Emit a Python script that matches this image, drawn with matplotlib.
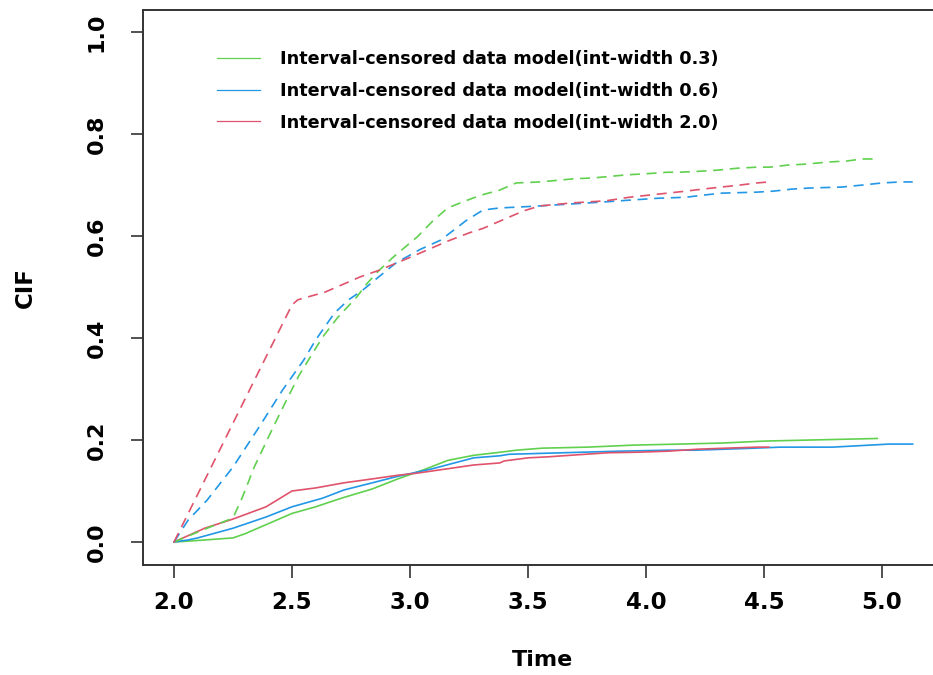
import numpy as np
import matplotlib
matplotlib.use("Agg")
from matplotlib import pyplot as plt

# colours of the R 4.x default palette
green = "#61D04F"
blue = "#2297E6"
red = "#DF536B"

labels = ["Interval-censored data model(int-width 0.3)",
          "Interval-censored data model(int-width 0.6)",
          "Interval-censored data model(int-width 2.0)"]

# lower curves (solid)
t_solid_03 = [2.0, 2.07, 2.25, 2.30, 2.385, 2.5, 2.6, 2.71, 2.84, 2.95, 3.06, 3.16, 3.27, 3.40, 3.45,
              3.56, 3.75, 3.95, 4.14, 4.32, 4.51, 4.70, 4.89, 4.98]
cif_solid_03 = [0.0, 0.002, 0.008, 0.016, 0.033, 0.056, 0.069, 0.086, 0.104, 0.124, 0.142, 0.16, 0.17, 0.177, 0.18,
                0.184, 0.186, 0.19, 0.192, 0.194, 0.198, 0.2, 0.202, 0.203]

t_solid_06 = [2.0, 2.06, 2.1, 2.25, 2.39, 2.5, 2.63, 2.72, 2.84, 2.95, 3.09, 3.27, 3.38, 3.42, 3.65,
              3.88, 4.09, 4.21, 4.46, 4.57, 4.79, 5.03, 5.13]
cif_solid_06 = [0.0, 0.004, 0.008, 0.027, 0.049, 0.069, 0.086, 0.102, 0.116, 0.129, 0.143, 0.165, 0.169, 0.172, 0.175,
                0.178, 0.18, 0.18, 0.184, 0.186, 0.186, 0.192, 0.192]

t_solid_20 = [2.0, 2.13, 2.25, 2.39, 2.5, 2.6, 2.72, 2.86, 2.95, 3.03, 3.27, 3.38, 3.40, 3.50, 3.585,
              3.71, 3.84, 3.96, 4.09, 4.22, 4.34, 4.47, 4.52]
cif_solid_20 = [0.0, 0.027, 0.045, 0.069, 0.1, 0.106, 0.116, 0.125, 0.131, 0.135, 0.151, 0.155, 0.159, 0.165, 0.167,
                0.171, 0.175, 0.176, 0.178, 0.182, 0.184, 0.186, 0.186]

# upper curves (dashed)
t_dash_03 = [2.0, 2.14, 2.25, 2.29, 2.34, 2.415, 2.47, 2.53, 2.63, 2.695, 2.77, 2.82, 2.87, 2.93, 3.03,
             3.10, 3.16, 3.23, 3.30, 3.38, 3.45, 3.55, 3.69, 3.78, 3.92, 4.0, 4.09, 4.14, 4.23, 4.30,
             4.39, 4.47, 4.525, 4.60, 4.68, 4.77, 4.85, 4.915, 4.97]
cif_dash_03 = [0.0, 0.027, 0.047, 0.088, 0.147, 0.22, 0.272, 0.327, 0.402, 0.441, 0.478, 0.508, 0.533, 0.559, 0.598,
               0.631, 0.655, 0.668, 0.68, 0.69, 0.704, 0.706, 0.712, 0.714, 0.72, 0.722, 0.725, 0.725, 0.727, 0.729,
               0.733, 0.735, 0.735, 0.739, 0.741, 0.745, 0.747, 0.751, 0.751]

t_dash_06 = [2.0, 2.06, 2.14, 2.25, 2.36, 2.46, 2.55, 2.60, 2.68, 2.74, 2.80, 2.86, 2.94, 3.04, 3.13,
             3.24, 3.31, 3.38, 3.47, 3.55, 3.69, 3.83, 3.92, 4.05, 4.17, 4.24, 4.32, 4.47, 4.54, 4.62,
             4.69, 4.83, 4.92, 5.0, 5.08, 5.13]
cif_dash_06 = [0.0, 0.043, 0.082, 0.147, 0.225, 0.298, 0.357, 0.396, 0.449, 0.475, 0.494, 0.517, 0.547, 0.573, 0.592,
               0.631, 0.651, 0.655, 0.657, 0.659, 0.663, 0.667, 0.67, 0.674, 0.676, 0.68, 0.684, 0.686, 0.688, 0.692,
               0.694, 0.696, 0.70, 0.704, 0.706, 0.706]

t_dash_20 = [2.0, 2.25, 2.5, 2.525, 2.64, 2.79, 2.87, 3.01, 3.16, 3.25, 3.31, 3.41, 3.48, 3.55, 3.69,
             3.83, 3.93, 4.05, 4.17, 4.24, 4.32, 4.40, 4.47, 4.52]
cif_dash_20 = [0.0, 0.233, 0.465, 0.475, 0.49, 0.52, 0.533, 0.56, 0.59, 0.606, 0.615, 0.635, 0.649, 0.659, 0.665,
               0.669, 0.676, 0.682, 0.688, 0.692, 0.696, 0.70, 0.704, 0.706]

x_ticks = [2.0, 2.5, 3.0, 3.5, 4.0, 4.5, 5.0]
y_ticks = [0.0, 0.2, 0.4, 0.6, 0.8, 1.0]

W, H = 933, 675
fig = plt.figure(figsize=(W / 100, H / 100), dpi=100)
# box goes a bit past the right edge of the picture, like the original
ax = fig.add_axes([143 / W, 110 / H, 800 / W, 555 / H])

lw = 1.2
dash = (6, 4)
ax.plot(t_solid_03, cif_solid_03, color=green, lw=lw, label=labels[0])
ax.plot(t_solid_06, cif_solid_06, color=blue, lw=lw, label=labels[1])
ax.plot(t_solid_20, cif_solid_20, color=red, lw=lw, label=labels[2])
ax.plot(t_dash_03, cif_dash_03, color=green, lw=lw, dashes=dash)
ax.plot(t_dash_06, cif_dash_06, color=blue, lw=lw, dashes=dash)
ax.plot(t_dash_20, cif_dash_20, color=red, lw=lw, dashes=dash)

ax.set_xlim(2 - 31 / 236, 2 - 31 / 236 + 800 / 236)
ax.set_ylim(-23 / 510, 1 + 22 / 510)
ax.set_xticks(x_ticks)
ax.set_yticks(y_ticks)
ax.set_xticklabels(["%.1f" % v for v in x_ticks], fontsize=16.5, fontweight="bold")
ax.set_yticklabels(["%.1f" % v for v in y_ticks], fontsize=16, fontweight="bold",
                   rotation=90, va="center")
ax.tick_params(axis="both", direction="out", length=9, width=1.1, color="#222222")
ax.tick_params(axis="x", pad=10)
ax.tick_params(axis="y", pad=17)
for s in ax.spines.values():
    s.set_linewidth(1.4)
    s.set_color("#333333")

ax.set_xlabel("Time", fontsize=16, fontweight="bold", labelpad=26)
ax.set_ylabel("CIF", fontsize=16.5, fontweight="bold", labelpad=36)

leg = ax.legend(loc="upper left", bbox_to_anchor=(217 / W, 1 - 50 / H),
                bbox_transform=fig.transFigure, frameon=False,
                prop={"size": 12.7, "weight": "bold"},
                handlelength=2.45, handletextpad=1.1, labelspacing=0.78,
                borderpad=0, borderaxespad=0)
for ln in leg.get_lines():
    ln.set_linewidth(0.9)

fig.savefig("out.png", dpi=100)
